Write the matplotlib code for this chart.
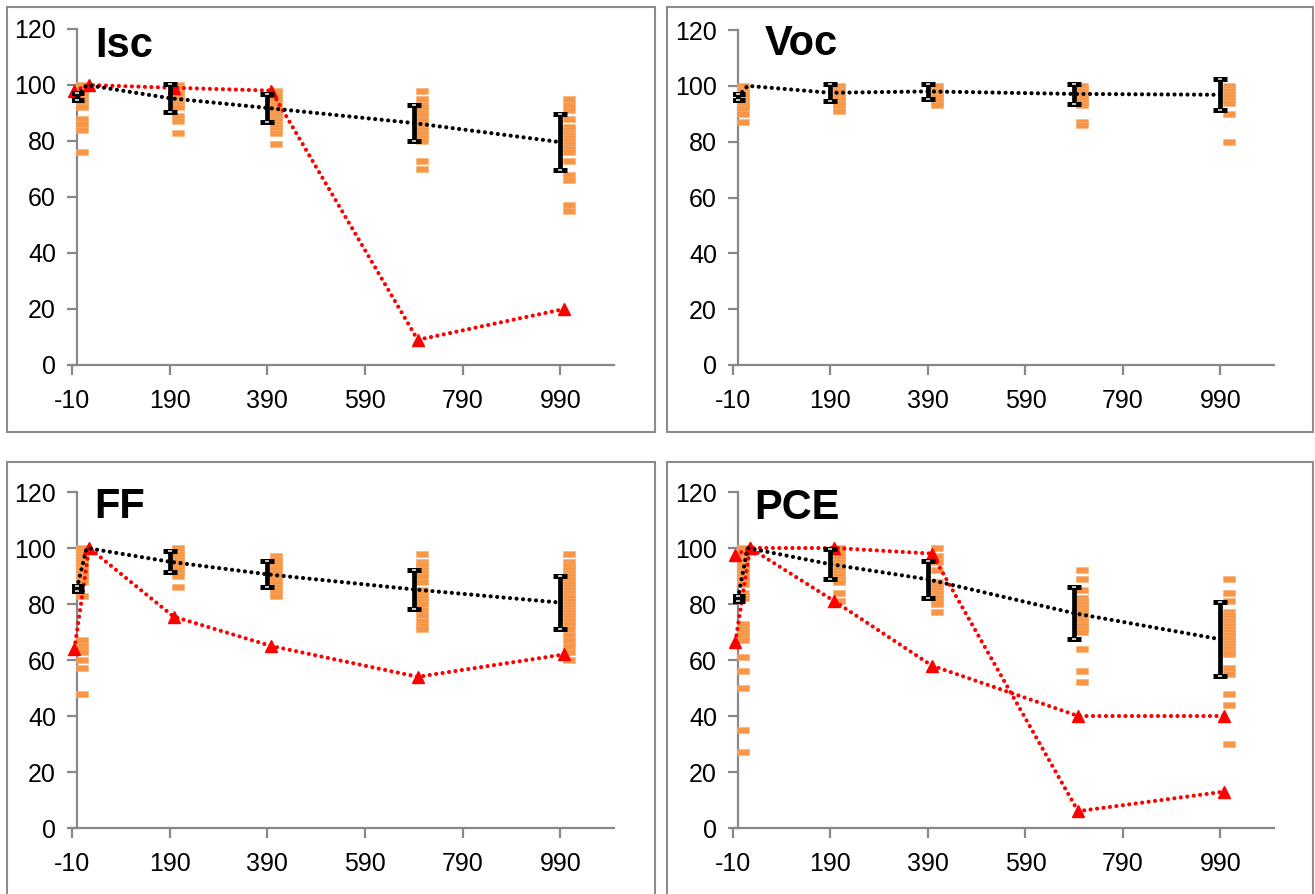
import numpy as np
import matplotlib
matplotlib.use('Agg')
import matplotlib.pyplot as plt
from matplotlib.path import Path
from matplotlib.patches import Rectangle

plt.rcParams['font.family'] = ['Liberation Sans', 'DejaVu Sans']
plt.rcParams['axes.unicode_minus'] = False

W, H = 1315, 894

# x positions (days), each series shifted a little like in the sheet
tick_pos = [-10, 190, 390, 590, 790, 990]
tick_labels = ['-10', '190', '390', '590', '790', '990']
t_mean = [0, 20, 190, 390, 690, 990]
t_red = [-5, 25, 198, 398, 698, 998]
t_dots = [10, 207, 408, 707, 1007]

# ---- Isc ----
isc_mean = [96, 100, 95.3, 91.8, 86.4, 79.6]
isc_err = [1.2, 0, 5, 5, 6.5, 10]
isc_dots = [
    [100, 99, 98, 97, 96, 95, 94, 93, 92, 88, 86, 84, 76],
    [100, 99, 98, 97, 96, 95, 94, 93, 92, 89, 87, 83],
    [98, 97, 96, 95, 94, 93, 92, 91, 90, 89, 88, 87, 86, 85, 84, 83, 79],
    [98, 95, 93, 92, 91, 90, 89, 88, 87, 86, 85, 84, 83, 82, 81, 80, 73, 70],
    [95, 93, 91, 88, 85, 84, 83, 82, 81, 80, 79, 78, 77, 76, 73, 68, 66, 57, 55],
]
isc_red = [[98, 100, 99, 98, 9, 20]]

# ---- Voc ----
voc_mean = [96, 100, 97.5, 98, 97.1, 96.8]
voc_err = [1, 0, 3, 2.7, 3.5, 5.5]
voc_dots = [
    [100, 99, 98, 97, 96, 95, 94, 93, 92, 90, 87],
    [100, 99, 98, 97, 96, 95, 94, 93, 92, 91],
    [100, 99, 98, 97, 96, 95, 94, 93],
    [100, 99, 98, 97, 96, 95, 94, 93, 87, 86],
    [100, 99, 98, 97, 96, 95, 94, 90, 80],
]
voc_red = []

# ---- FF ----
ff_mean = [85.6, 100, 95.1, 90.6, 85.2, 80.5]
ff_err = [1, 0, 3.7, 4.6, 7.1, 9.6]
ff_dots = [
    [100, 99, 98, 97, 96, 95, 94, 93, 92, 91, 90, 89, 88, 83, 67, 65, 64, 63, 60, 57, 48],
    [100, 99, 98, 97, 96, 95, 94, 93, 92, 91, 90, 86],
    [97, 96, 95, 94, 93, 92, 91, 90, 89, 88, 87, 86, 85, 84, 83],
    [98, 95, 94, 93, 92, 91, 90, 88, 85, 84, 83, 82, 81, 80, 78, 76, 74, 72, 71],
    [98, 95, 94, 93, 92, 91, 90, 89, 88, 87, 86, 85, 84, 83, 82, 81, 80, 79, 78, 77,
     76, 75, 74, 73, 71, 69, 67, 65, 63, 60],
]
ff_red = [[64, 100, 75.5, 65, 54, 62]]

# ---- PCE ----
pce_mean = [82, 100, 94.2, 88.8, 76.7, 67.4]
pce_err = [1, 0, 5.3, 6.5, 9.3, 13.2]
pce_dots = [
    [100, 98, 97, 96, 95, 94, 93, 92, 91, 90, 89, 88, 87, 84, 82, 73, 72, 71, 70, 69,
     68, 67, 61, 56, 50, 35, 27],
    [100, 99, 98, 97, 96, 95, 94, 93, 92, 91, 90, 89, 88, 84, 81],
    [100, 97, 95, 92, 88, 87, 86, 85, 84, 83, 82, 81, 80, 77],
    [92, 89, 85, 82, 81, 80, 79, 78, 77, 76, 75, 74, 73, 72, 71, 70, 64, 56, 52],
    [89, 84, 81, 77, 76, 75, 74, 73, 72, 71, 70, 69, 68, 67, 66, 65, 64, 63, 62, 57,
     55, 48, 44, 30],
]
pce_red = [[97.5, 100, 100, 98, 6, 13], [66.5, 100, 81, 58, 40, 40]]

orange = '#F79646'
grey = '#888888'
dotted = (0, (0.01, 1.55))
dash = Path([(-1, -0.6), (1, -0.6), (1, 0.6), (-1, 0.6), (-1, -0.6)],
            [Path.MOVETO, Path.LINETO, Path.LINETO, Path.LINETO, Path.CLOSEPOLY])

fig = plt.figure(figsize=(W / 100, H / 100), dpi=100)


def box(x0, y0, x1, y1):
    fig.patches.append(Rectangle((x0 / W, 1 - y1 / H), (x1 - x0) / W, (y1 - y0) / H,
                                 transform=fig.transFigure, fill=False,
                                 ec='#8c8c8c', lw=1.5))


def panel(px, title, tpos, mean, err, dots, reds):
    l, t, r, b = px
    ax = fig.add_axes([l / W, 1 - b / H, (r - l) / W, (b - t) / H])
    ax.set_xlim(-10, 1100)
    ax.set_ylim(0, 120)
    for s in ['top', 'right']:
        ax.spines[s].set_visible(False)
    ax.spines['left'].set_position(('data', 0))
    for s in ['left', 'bottom']:
        ax.spines[s].set_color(grey)
        ax.spines[s].set_linewidth(1.6)
    ax.set_xticks(tick_pos)
    ax.set_xticklabels(tick_labels)
    ax.set_yticks(range(0, 121, 20))
    ax.tick_params(direction='out', length=7, width=1.6, color=grey, labelsize=18)
    ax.tick_params(axis='x', pad=10)
    ax.tick_params(axis='y', pad=8)

    for i, vals in enumerate(dots):
        ax.plot([t_dots[i]] * len(vals), vals, ls='none', marker=dash, ms=8,
                mfc=orange, mec='#F9AE70', mew=0.4, zorder=3, clip_on=False)

    for rv in reds:
        ax.plot(t_red, rv, color='#FF0000', lw=3, ls=dotted, dash_capstyle='round',
                marker='^', ms=9, zorder=4, clip_on=False)

    m = np.array(mean)
    e = np.array(err)
    tm = np.array(t_mean)
    k = e > 0
    ax.plot(tm, m, color='black', lw=3, ls=dotted, dash_capstyle='round', zorder=5)
    ax.errorbar(tm[k], m[k], yerr=e[k], fmt='none', ecolor='black', elinewidth=3.4,
                capsize=5, capthick=3.6, zorder=6)
    for cap in (m[k] + e[k], m[k] - e[k]):
        ax.plot(tm[k], cap, ls='none', marker='_', color='white', ms=2.6, mew=1.1, zorder=7)

    fig.text(tpos[0] / W, 1 - tpos[1] / H, title, fontsize=30, fontweight='bold',
             va='baseline')
    return ax


box(7, 7, 655, 432)
box(667, 7, 1313, 432)
box(7, 462, 655, 900)
box(667, 462, 1313, 900)

panel((72, 29, 614, 365), 'Isc', (95, 57), isc_mean, isc_err, isc_dots, isc_red)
panel((733, 30, 1274, 365), 'Voc', (765, 55), voc_mean, voc_err, voc_dots, voc_red)
panel((72, 492, 614, 828), 'FF', (94, 518), ff_mean, ff_err, ff_dots, ff_red)
panel((733, 492, 1274, 828), 'PCE', (754, 519), pce_mean, pce_err, pce_dots, pce_red)

fig.savefig('out.png', dpi=100)
